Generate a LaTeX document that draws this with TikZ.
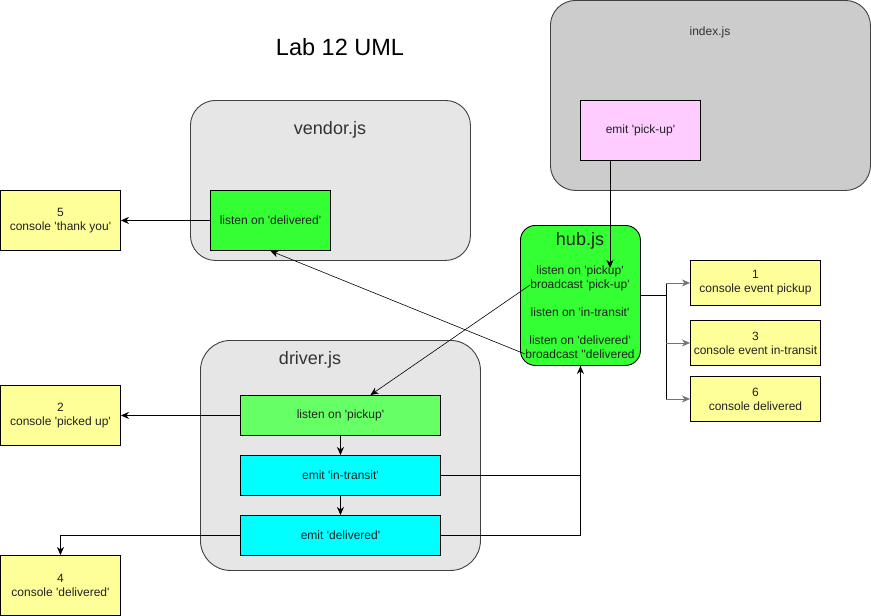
\documentclass[tikz,border=0pt]{standalone}
\usepackage{fontspec}
\setmainfont{Liberation Sans}
\usetikzlibrary{positioning,arrows.meta}
\definecolor{panegray}{HTML}{E6E6E6}
\definecolor{maingray}{HTML}{CCCCCC}
\definecolor{notey}{HTML}{FFFF99}
\definecolor{lime}{HTML}{33FF33}
\definecolor{palelime}{HTML}{66FF66}
\definecolor{aqua}{HTML}{00FFFF}
\definecolor{pinky}{HTML}{FFCCFF}
\definecolor{ink}{HTML}{222222}
\newcommand\tq{\textquotesingle}

\begin{document}
\begin{tikzpicture}[x=1pt,y=-1pt,
  every node/.style={text=ink},
  pane/.style={draw=black!75,line width=0.9pt,rounded corners=25pt,anchor=north west,inner sep=0pt},
  box/.style={draw=black,line width=0.9pt,anchor=north west,inner sep=0pt,align=center,
    font=\fontsize{12}{14}\selectfont},
  note/.style={box,fill=notey,minimum width=120pt,minimum height=60pt},
  panelabel/.style={font=\fontsize{18}{20}\selectfont,text=black!80},
  arr/.style={-{Stealth[length=8pt,width=7pt,inset=2.5pt]},line width=0.8pt}]
  \useasboundingbox (0,0) rectangle (871,616);

  \node[font=\fontsize{23.5}{26}\selectfont,text=black] (title) at (340,47) {Lab 12 UML};

  % containers
  \node[pane,fill=maingray,minimum width=320pt,minimum height=190pt] (index) at (550,0) {};
  \node[font=\fontsize{12}{14}\selectfont,text=black!80] (indexlbl) at (710,32) {index.js};
  \node[pane,fill=panegray,minimum width=280pt,minimum height=160pt] (vendor) at (190,100) {};
  \node[panelabel] (vendorlbl) at (330,130) {vendor.js};
  \node[pane,fill=panegray,rounded corners=30pt,minimum width=280pt,minimum height=230pt] (driver) at (200,340) {};
  \node[panelabel] (driverlbl) at (310,360) {driver.js};
  \node[pane,draw=black,fill=lime,rounded corners=15pt,minimum width=120pt,minimum height=140pt] (hub) at (520,225) {};
  \node[panelabel,text=ink] (hublbl) at (580,241) {hub.js};
  \node[align=center,font=\fontsize{12}{14}\selectfont,inner sep=0pt] (hubtxt) at (580,312)
    {listen on \tq pickup\tq\\broadcast \tq pick-up\tq\\[14pt]listen on \tq in-transit\tq\\[14pt]listen on \tq delivered\tq\\broadcast \tq\tq delivered};

  % inner boxes
  \node[box,fill=pinky,minimum width=120pt,minimum height=60pt] (emitpick) at (580,100) {emit \tq pick-up\tq};
  \node[box,fill=lime,minimum width=120pt,minimum height=60pt] (vlisten) at (210,190) {listen on \tq delivered\tq};
  \node[box,fill=palelime,minimum width=200pt,minimum height=40pt] (dlisten) at (240,395) {listen on \tq pickup\tq};
  \node[box,fill=aqua,minimum width=200pt,minimum height=40pt] (dtransit) at (240,455) {emit \tq in-transit\tq};
  \node[box,fill=aqua,minimum width=200pt,minimum height=40pt] (ddeliv) at (240,515) {emit \tq delivered\tq};

  % console notes
  \node[note] (n5) at (0,190) {5\\console \tq thank you\tq};
  \node[note] (n2) at (0,385) {2\\console \tq picked up\tq};
  \node[note] (n4) at (0,555) {4\\console \tq delivered\tq};
  \node[note,minimum width=130pt,minimum height=45pt] (n1) at (690,260) {1\\console event pickup};
  \node[note,minimum width=130pt,minimum height=45pt] (n3) at (690,320) {3\\console event in-transit};
  \node[note,minimum width=130pt,minimum height=45pt] (n6) at (690,376) {6\\console delivered};

  % connectors
  \coordinate (hubin) at (610,268);
  \coordinate (bcpick) at (530,285);
  \coordinate (bcdel) at (525,354);
  \draw[arr] (emitpick.south -| hubin) -- (hubin);
  \draw[line width=0.8pt] (hub.east) -- ++(25,0) coordinate (fork);
  \draw[line width=0.8pt] (fork |- n1.west) -- (fork |- n6.west);
  \foreach \n in {n1,n3,n6}{\draw[arr,black!55] (fork |- \n.west) -- (\n.west);}
  \draw[arr] (vlisten.west) -- (n5.east);
  \draw[arr] (dlisten.west) -- (n2.east);
  \draw[arr] (ddeliv.west) -| (n4.north);
  \draw[arr] (dlisten.south) -- (dtransit.north);
  \draw[arr] (dtransit.south) -- (ddeliv.north);
  \draw[arr] (dtransit.east) -| (hub.south);
  \draw[line width=0.8pt] (ddeliv.east) -| (hub.south);
  \draw[arr,line width=0.6pt] (bcpick) -- ([xshift=30pt]dlisten.north);
  \draw[arr,line width=0.6pt] (bcdel) -- (vlisten.south);
\end{tikzpicture}
\end{document}
